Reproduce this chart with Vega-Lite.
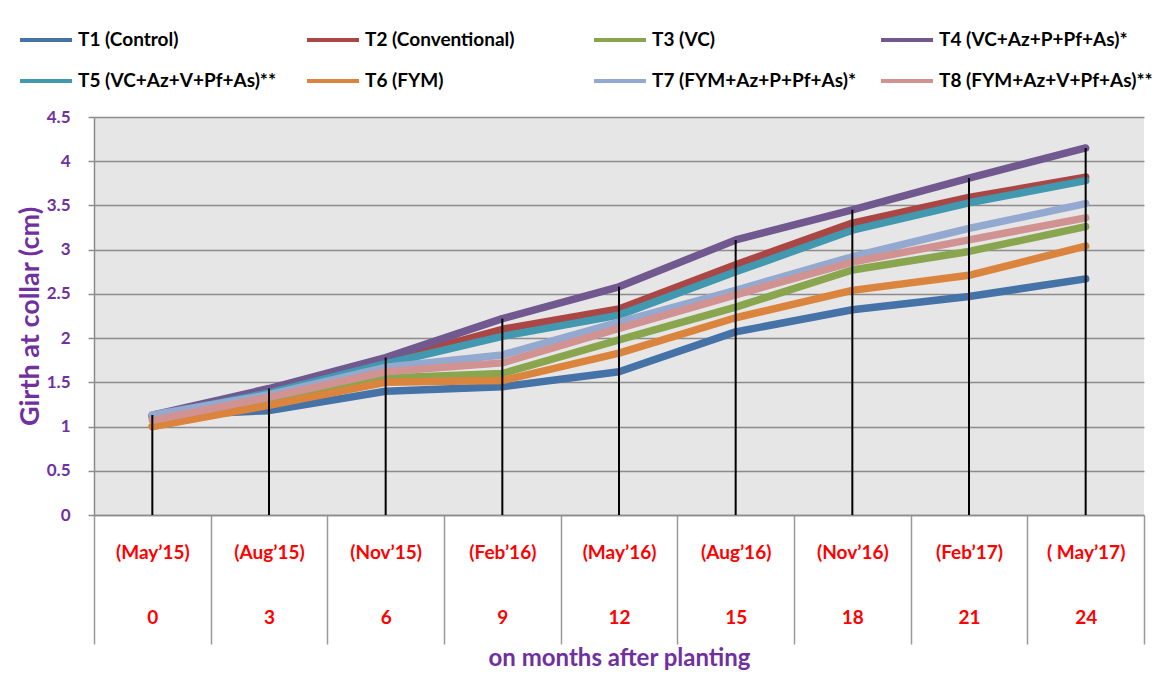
{
  "$schema": "https://vega.github.io/schema/vega-lite/v6.json",
  "autosize": {"type": "none"},
  "padding": {"left": 94, "top": 117, "right": 14, "bottom": 179},
  "width": 1050,
  "height": 398,
  "background": "white",
  "config": {
    "font": "Lato",
    "view": {"fill": "#E6E6E6", "stroke": null}
  },
  "data": {
    "values": [
      {"cat": "(May’15)|0", "series": "T1 (Control)", "value": 1.12},
      {"cat": "(Aug’15)|3", "series": "T1 (Control)", "value": 1.18},
      {"cat": "(Nov’15)|6", "series": "T1 (Control)", "value": 1.40},
      {"cat": "(Feb’16)|9", "series": "T1 (Control)", "value": 1.45},
      {"cat": "(May’16)|12", "series": "T1 (Control)", "value": 1.62},
      {"cat": "(Aug’16)|15", "series": "T1 (Control)", "value": 2.07},
      {"cat": "(Nov’16)|18", "series": "T1 (Control)", "value": 2.32},
      {"cat": "(Feb’17)|21", "series": "T1 (Control)", "value": 2.47},
      {"cat": "( May’17)|24", "series": "T1 (Control)", "value": 2.67},
      {"cat": "(May’15)|0", "series": "T2 (Conventional)", "value": 1.10},
      {"cat": "(Aug’15)|3", "series": "T2 (Conventional)", "value": 1.40},
      {"cat": "(Nov’15)|6", "series": "T2 (Conventional)", "value": 1.74},
      {"cat": "(Feb’16)|9", "series": "T2 (Conventional)", "value": 2.10},
      {"cat": "(May’16)|12", "series": "T2 (Conventional)", "value": 2.33},
      {"cat": "(Aug’16)|15", "series": "T2 (Conventional)", "value": 2.83},
      {"cat": "(Nov’16)|18", "series": "T2 (Conventional)", "value": 3.30},
      {"cat": "(Feb’17)|21", "series": "T2 (Conventional)", "value": 3.59},
      {"cat": "( May’17)|24", "series": "T2 (Conventional)", "value": 3.82},
      {"cat": "(May’15)|0", "series": "T3 (VC)", "value": 1.00},
      {"cat": "(Aug’15)|3", "series": "T3 (VC)", "value": 1.27},
      {"cat": "(Nov’15)|6", "series": "T3 (VC)", "value": 1.55},
      {"cat": "(Feb’16)|9", "series": "T3 (VC)", "value": 1.60},
      {"cat": "(May’16)|12", "series": "T3 (VC)", "value": 1.98},
      {"cat": "(Aug’16)|15", "series": "T3 (VC)", "value": 2.35},
      {"cat": "(Nov’16)|18", "series": "T3 (VC)", "value": 2.77},
      {"cat": "(Feb’17)|21", "series": "T3 (VC)", "value": 2.98},
      {"cat": "( May’17)|24", "series": "T3 (VC)", "value": 3.26},
      {"cat": "(May’15)|0", "series": "T4 (VC+Az+P+Pf+As)*", "value": 1.13},
      {"cat": "(Aug’15)|3", "series": "T4 (VC+Az+P+Pf+As)*", "value": 1.43},
      {"cat": "(Nov’15)|6", "series": "T4 (VC+Az+P+Pf+As)*", "value": 1.78},
      {"cat": "(Feb’16)|9", "series": "T4 (VC+Az+P+Pf+As)*", "value": 2.22},
      {"cat": "(May’16)|12", "series": "T4 (VC+Az+P+Pf+As)*", "value": 2.58},
      {"cat": "(Aug’16)|15", "series": "T4 (VC+Az+P+Pf+As)*", "value": 3.11},
      {"cat": "(Nov’16)|18", "series": "T4 (VC+Az+P+Pf+As)*", "value": 3.45},
      {"cat": "(Feb’17)|21", "series": "T4 (VC+Az+P+Pf+As)*", "value": 3.81},
      {"cat": "( May’17)|24", "series": "T4 (VC+Az+P+Pf+As)*", "value": 4.15},
      {"cat": "(May’15)|0", "series": "T5 (VC+Az+V+Pf+As)**", "value": 1.12},
      {"cat": "(Aug’15)|3", "series": "T5 (VC+Az+V+Pf+As)**", "value": 1.38},
      {"cat": "(Nov’15)|6", "series": "T5 (VC+Az+V+Pf+As)**", "value": 1.71},
      {"cat": "(Feb’16)|9", "series": "T5 (VC+Az+V+Pf+As)**", "value": 2.02},
      {"cat": "(May’16)|12", "series": "T5 (VC+Az+V+Pf+As)**", "value": 2.26},
      {"cat": "(Aug’16)|15", "series": "T5 (VC+Az+V+Pf+As)**", "value": 2.75},
      {"cat": "(Nov’16)|18", "series": "T5 (VC+Az+V+Pf+As)**", "value": 3.22},
      {"cat": "(Feb’17)|21", "series": "T5 (VC+Az+V+Pf+As)**", "value": 3.53},
      {"cat": "( May’17)|24", "series": "T5 (VC+Az+V+Pf+As)**", "value": 3.78},
      {"cat": "(May’15)|0", "series": "T6 (FYM)", "value": 1.00},
      {"cat": "(Aug’15)|3", "series": "T6 (FYM)", "value": 1.24},
      {"cat": "(Nov’15)|6", "series": "T6 (FYM)", "value": 1.50},
      {"cat": "(Feb’16)|9", "series": "T6 (FYM)", "value": 1.52},
      {"cat": "(May’16)|12", "series": "T6 (FYM)", "value": 1.83},
      {"cat": "(Aug’16)|15", "series": "T6 (FYM)", "value": 2.23},
      {"cat": "(Nov’16)|18", "series": "T6 (FYM)", "value": 2.54},
      {"cat": "(Feb’17)|21", "series": "T6 (FYM)", "value": 2.71},
      {"cat": "( May’17)|24", "series": "T6 (FYM)", "value": 3.04},
      {"cat": "(May’15)|0", "series": "T7 (FYM+Az+P+Pf+As)*", "value": 1.13},
      {"cat": "(Aug’15)|3", "series": "T7 (FYM+Az+P+Pf+As)*", "value": 1.36},
      {"cat": "(Nov’15)|6", "series": "T7 (FYM+Az+P+Pf+As)*", "value": 1.67},
      {"cat": "(Feb’16)|9", "series": "T7 (FYM+Az+P+Pf+As)*", "value": 1.81},
      {"cat": "(May’16)|12", "series": "T7 (FYM+Az+P+Pf+As)*", "value": 2.18},
      {"cat": "(Aug’16)|15", "series": "T7 (FYM+Az+P+Pf+As)*", "value": 2.54},
      {"cat": "(Nov’16)|18", "series": "T7 (FYM+Az+P+Pf+As)*", "value": 2.92},
      {"cat": "(Feb’17)|21", "series": "T7 (FYM+Az+P+Pf+As)*", "value": 3.24},
      {"cat": "( May’17)|24", "series": "T7 (FYM+Az+P+Pf+As)*", "value": 3.52},
      {"cat": "(May’15)|0", "series": "T8 (FYM+Az+V+Pf+As)**", "value": 1.07},
      {"cat": "(Aug’15)|3", "series": "T8 (FYM+Az+V+Pf+As)**", "value": 1.33},
      {"cat": "(Nov’15)|6", "series": "T8 (FYM+Az+V+Pf+As)**", "value": 1.62},
      {"cat": "(Feb’16)|9", "series": "T8 (FYM+Az+V+Pf+As)**", "value": 1.72},
      {"cat": "(May’16)|12", "series": "T8 (FYM+Az+V+Pf+As)**", "value": 2.11},
      {"cat": "(Aug’16)|15", "series": "T8 (FYM+Az+V+Pf+As)**", "value": 2.49},
      {"cat": "(Nov’16)|18", "series": "T8 (FYM+Az+V+Pf+As)**", "value": 2.86},
      {"cat": "(Feb’17)|21", "series": "T8 (FYM+Az+V+Pf+As)**", "value": 3.11},
      {"cat": "( May’17)|24", "series": "T8 (FYM+Az+V+Pf+As)**", "value": 3.36}
    ]
  },
  "encoding": {
    "x": {
      "field": "cat",
      "type": "nominal",
      "sort": null,
      "scale": {"type": "band", "paddingInner": 0, "paddingOuter": 0},
      "axis": {
        "title": "on months after planting",
        "titleFont": "Lato",
        "titleFontSize": 24,
        "titleFontWeight": "bold",
        "titleColor": "#7030A0",
        "titlePadding": 2,
        "labelAngle": 0,
        "labelExpr": "split(datum.label, '|')",
        "labelLineHeight": 65,
        "labelFont": "Lato",
        "labelFontSize": 19,
        "labelFontWeight": "bold",
        "labelColor": "#FF0000",
        "labelBaseline": "middle",
        "labelPadding": -92,
        "tickBand": "extent",
        "tickSize": 129,
        "tickColor": "#999999",
        "tickWidth": 1.5,
        "domainColor": "#8C8C8C",
        "domainWidth": 1.5,
        "grid": false
      }
    },
    "y": {
      "field": "value",
      "type": "quantitative",
      "scale": {"domain": [0, 4.5], "nice": false, "zero": true},
      "axis": {
        "title": "Girth at collar (cm)",
        "titleFont": "Lato",
        "titleFontSize": 27,
        "titleFontWeight": "bold",
        "titleColor": "#7030A0",
        "titleX": -64,
        "titleY": 199,
        "titleAngle": -90,
        "titleAlign": "center",
        "titleBaseline": "middle",
        "values": [0, 0.5, 1, 1.5, 2, 2.5, 3, 3.5, 4, 4.5],
        "labelExpr": "datum.value == 0 ? '0' : format(datum.value, '.2~f')",
        "labelFont": "Lato",
        "labelFontSize": 17,
        "labelFontWeight": "bold",
        "labelColor": "#7030A0",
        "labelPadding": 18,
        "tickSize": 6,
        "tickColor": "#8C8C8C",
        "tickWidth": 1.5,
        "domainColor": "#8C8C8C",
        "domainWidth": 1.5,
        "grid": true,
        "gridColor": "#8C8C8C",
        "gridWidth": 1.5
      }
    }
  },
  "layer": [
    {
      "mark": {"type": "line", "strokeWidth": 7.5, "strokeCap": "round", "strokeJoin": "round"},
      "encoding": {
        "color": {
          "field": "series",
          "type": "nominal",
          "scale": {
            "domain": ["T1 (Control)", "T2 (Conventional)", "T3 (VC)", "T4 (VC+Az+P+Pf+As)*", "T5 (VC+Az+V+Pf+As)**", "T6 (FYM)", "T7 (FYM+Az+P+Pf+As)*", "T8 (FYM+Az+V+Pf+As)**"],
            "range": ["#4572A7", "#AA4643", "#89A54E", "#71588F", "#4198AF", "#DB843D", "#93A9CF", "#D19392"]
          },
          "legend": {
            "title": null,
            "orient": "none",
            "legendX": -76,
            "legendY": -105,
            "direction": "horizontal",
            "columns": 4,
            "gridAlign": "all",
            "columnPadding": 7,
            "rowPadding": 3,
            "symbolType": "stroke",
            "symbolSize": 2704,
            "symbolStrokeWidth": 4,
            "labelFont": "Lato",
            "labelFontSize": 19,
            "labelFontWeight": "bold",
            "labelColor": "#000000",
            "labelOffset": 4,
            "labelLimit": 400,
            "padding": 0
          }
        }
      }
    },
    {
      "mark": {"type": "rule", "color": "#000000", "strokeWidth": 2},
      "encoding": {
        "y": {"aggregate": "max", "field": "value", "type": "quantitative"},
        "y2": {"datum": 0}
      }
    }
  ]
}
